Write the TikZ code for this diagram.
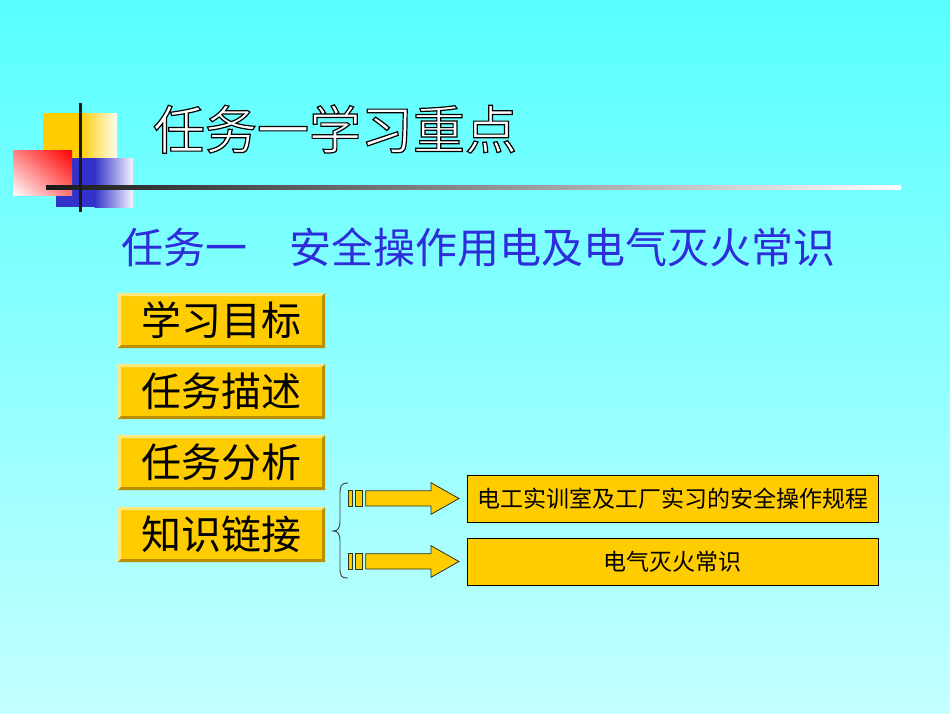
\documentclass[tikz,border=0pt]{standalone}
\usepackage{fontspec}
\usetikzlibrary{shadings}
\setmainfont{Noto Sans CJK SC}
\definecolor{bgtop}{RGB}{87,255,255}
\definecolor{bgbot}{RGB}{196,255,255}
\definecolor{gold}{RGB}{255,204,0}
\definecolor{goldlight}{RGB}{255,232,130}
\definecolor{golddark}{RGB}{185,145,0}
\definecolor{subblue}{RGB}{45,45,220}
\definecolor{sqblue}{RGB}{51,51,204}
\definecolor{sqyellow}{RGB}{255,204,0}
\definecolor{outl}{RGB}{50,50,20}
\tikzset{
  titletext/.style={inner sep=0pt, font=\fontsize{52}{60}\selectfont},
  subtext/.style={inner sep=0pt, anchor=west, text=subblue, font=\fontsize{42}{50}\selectfont},
  labeltext/.style={inner sep=0pt, text=black, font=\fontsize{40}{48}\selectfont},
  itembox/.style={draw=black, line width=0.8pt, fill=gold, minimum width=411pt, minimum height=47pt, inner sep=0pt, font=\fontsize{23}{28}\selectfont},
  blockarrow/.style={fill=gold, draw=outl, line width=0.8pt},
  bracestyle/.style={draw=black!75, line width=0.9pt}
}
\newcommand\outlinedtext[1]{{\color{white}\special{pdf:literal direct 0 0 0 RG 2 Tr 1.2 w}#1\special{pdf:literal direct 0 Tr}}}
\newcommand\mylabelbox[3]{%
  \fill[gold] (118,#2) rectangle (325,{#2+55});
  \fill[goldlight] (118,#2) -- (325,#2) -- (322,{#2+3}) -- (121,{#2+3}) -- (121,{#2+52}) -- (118,{#2+55}) -- cycle;
  \fill[golddark] (325,#2) -- (325,{#2+55}) -- (118,{#2+55}) -- (121,{#2+52}) -- (322,{#2+52}) -- (322,{#2+3}) -- cycle;
  \node[labeltext] (#1) at (221.5,{#2+27.5}) {#3};
}
\newcommand\myarrow[1]{%
  \draw[blockarrow] (348.3,{#1-7.7}) rectangle (352,{#1+7.5});
  \draw[blockarrow] (355,{#1-7.7}) rectangle (362.3,{#1+7.5});
  \draw[blockarrow] (365.7,{#1-7.7}) -- (431,{#1-7.7}) -- (431,{#1-15.8}) -- (459,#1) -- (431,{#1+15.8}) -- (431,{#1+7.5}) -- (365.7,{#1+7.5}) -- cycle;
}
\begin{document}
\begin{tikzpicture}[x=1pt,y=-1pt]
\useasboundingbox (0,0) rectangle (950,713);
% background
\shade[top color=bgtop, bottom color=bgbot] (0,0) rectangle (950,713);
% decoration squares
\fill[sqyellow] (43,113) rectangle (80,158);
\shade[left color=sqyellow, right color=white!95!sqyellow] (79.5,113) rectangle (117,158);
\fill[sqblue] (56,158) rectangle (95,207);
\shade[left color=sqblue, right color=white!95!sqblue] (94.5,158) rectangle (133,207);
\shade[upper right=red, lower left=white, upper left=red!50!white, lower right=red!55!white] (13,150) rectangle (72,195);
% lines
\shade[left color=black!90, right color=white] (46,185.3) rectangle (901,189.3);
\fill[black!90] (78.5,103) rectangle (81.5,212);
% title with outline
\node[titletext] (title) at (335,129) {\outlinedtext{任务一学习重点}};
% subtitle
\node[subtext] (subtitle) at (121,247) {任务一　安全操作用电及电气灭火常识};
% label boxes
\mylabelbox{goal}{293}{学习目标}
\mylabelbox{desc}{364}{任务描述}
\mylabelbox{analysis}{435}{任务分析}
\mylabelbox{link}{507}{知识链接}
% brace
\draw[bracestyle] (348,483) .. controls (341,483) and (340,486) .. (340,494) -- (340,521)
  .. controls (340,528) and (338,531) .. (333,531)
  .. controls (338,531) and (340,534) .. (340,541) -- (340,568)
  .. controls (340,576) and (341,578) .. (348,578);
% block arrows
\myarrow{498.5}
\myarrow{561.5}
% items
\node[itembox] (item1) at (672.5,498.5) {电工实训室及工厂实习的安全操作规程};
\node[itembox] (item2) at (672.5,561.5) {电气灭火常识};
\end{tikzpicture}
\end{document}
